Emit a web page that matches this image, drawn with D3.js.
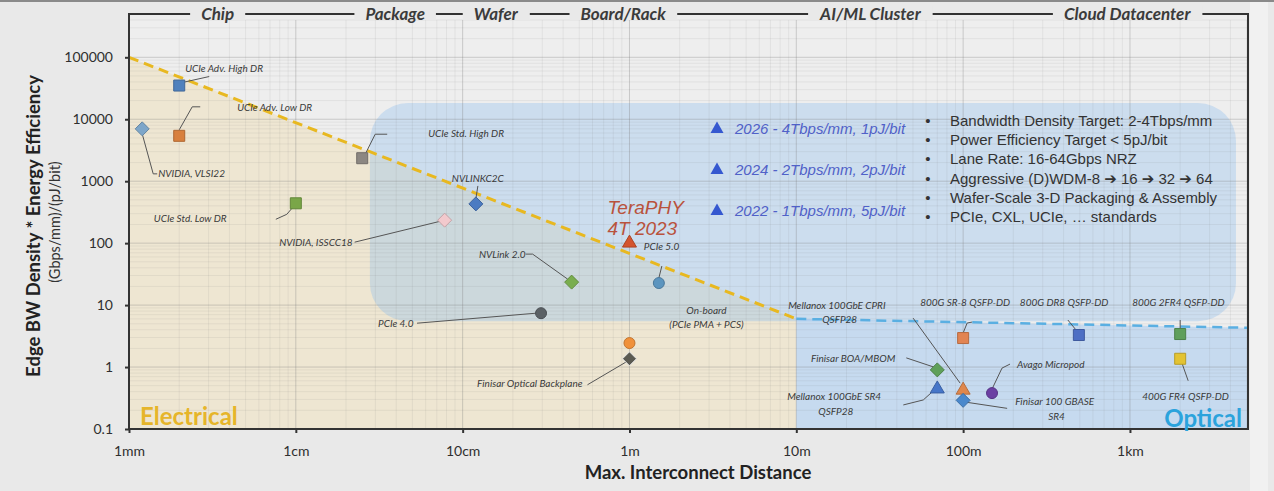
<!DOCTYPE html>
<html><head><meta charset="utf-8">
<script src="https://cdn.jsdelivr.net/npm/d3@7"></script>
<style>body{margin:0;background:#e9e9e9;} svg{display:block;}</style>
</head><body><svg id="c" width="1274" height="491"></svg>
<script>
// ---------------- DATA ----------------
const xTicks = [0.001, 0.01, 0.1, 1, 10, 100, 1000];
const xTickLabels = ["1mm", "1cm", "10cm", "1m", "10m", "100m", "1km"];
const yTicks = [0.1, 1, 10, 100, 1000, 10000, 100000];
const yTickLabels = ["0.1", "1", "10", "100", "1000", "10000", "100000"];

const headerLabels = ["Chip", "Package", "Wafer", "Board/Rack", "AI/ML Cluster", "Cloud Datacenter"];
const headerCenters = [0.0034, 0.0394, 0.158, 0.916, 27.8, 962];

const pointNames = ["UCIe Adv. High DR","UCIe Adv. Low DR","NVIDIA, VLSI22","UCIe Std. High DR","UCIe Std. Low DR",
  "NVIDIA, ISSCC18","NVLINKC2C","TeraPHY 4T 2023","PCIe 5.0","NVLink 2.0","PCIe 4.0","On-board (PCIe PMA + PCS)",
  "Finisar Optical Backplane","Mellanox 100GbE CPRI QSFP28","Finisar BOA/MBOM","Mellanox 100GbE SR4 QSFP28",
  "Finisar 100 GBASE SR4","Avago Micropod","800G SR-8 QSFP-DD","800G DR8 QSFP-DD","800G 2FR4 QSFP-DD","400G FR4 QSFP-DD"];
const pointDistances = [0.002,0.002,0.0012,0.025,0.01,0.078,0.12,1,1.5,0.45,0.295,1,1,100,70,70,100,149,100,494,2000,2000];
const pointValues = [35000,5400,7000,2350,440,235,430,104,22.7,23.5,7.4,2.44,1.36,0.44,0.9,0.46,0.29,0.38,2.94,3.29,3.41,1.36];
const pointShapes = ["square","square","diamond","square","square","diamond","diamond","triangle","circle","diamond","circle","circle",
  "diamond","triangle","diamond","triangle","diamond","circle","square","square","square","square"];

const electricalLineDist = [0.001, 10];
const electricalLineVal = [100000, 6];
const opticalLineDist = [10, 5100];
const opticalLineVal = [6, 4.3];
const targetBoxDist = [0.0278, 4320];
const targetBoxVal = [5.5, 18300];

const legendLabels = ["2026 - 4Tbps/mm, 1pJ/bit", "2024 - 2Tbps/mm, 2pJ/bit", "2022 - 1Tbps/mm, 5pJ/bit"];
const bulletLines = ["Bandwidth Density Target: 2-4Tbps/mm", "Power Efficiency Target < 5pJ/bit", "Lane Rate: 16-64Gbps NRZ",
  "Aggressive (D)WDM-8 \u2794 16 \u2794 32 \u2794 64", "Wafer-Scale 3-D Packaging & Assembly", "PCIe, CXL, UCIe, \u2026 standards"];

// ---------------- STYLE / LAYOUT ----------------
const pointColors = ["#4f81bd","#d8803e","#7da6c9","#8c8782","#7aa648","#f2c9cd","#4b7bc2","#d4542e","#5c95bf","#79ad4e","#5b6165","#f0913b",
  "#5b5a52","#e0874c","#5fa05a","#4676c9","#4a88cc","#6b3fa3","#e28452","#4e6fc4","#5f9f5c","#e3c332"];
const annotations = [
 {lines:[["UCIe Adv. High DR",6,-14]], leader:[[3,-3],[30,-9]]},
 {lines:[["UCIe Adv. Low DR",58,-25]], leader:[[0,-6],[13,-29],[21,-29]]},
 {lines:[["NVIDIA, VLSI22",16,48.5]], leader:[[0,5],[11,45],[15,45]]},
 {lines:[["UCIe Std. High DR",66,-21.5]], leader:[[3,-4],[13,-24],[25,-24]]},
 {lines:[["UCIe Std. Low DR",-142,18.5]], leader:[[-3,4],[-9,11],[-20,16]]},
 {lines:[["NVIDIA, ISSCC18",-92,25.5,"end"]], leader:[[-4,1],[-90,22]]},
 {lines:[["NVLINKC2C",2,-21.5,"middle"]], leader:[[0,-5],[2,-18]]},
 {lines:[["TeraPHY",-22,-28],["4T 2023",-22,-7]], big:true, leader:null},
 {lines:[["PCIe 5.0",-15,-33.5]], leader:[[0,-5],[3,-17]]},
 {lines:[["NVLink 2.0",-46,-24.5,"end"]], leader:[[-4,-3],[-39,-28],[-46,-28]]},
 {lines:[["PCIe 4.0",-163,13.5]], leader:[[-124,10],[-5,0]]},
 {lines:[["On-board",77,-29.5,"middle"],["(PCIe PMA + PCS)",77,-15.5,"middle"]], leader:null},
 {lines:[["Finisar Optical Backplane",-47,28.5,"end"]], leader:[[-42,26],[-3,3]]},
 {lines:[["Mellanox 100GbE CPRI",-175,-80.5],["QSFP28",-141,-66.5]], leader:[[-50,-71],[-3,-6]]},
 {lines:[["Finisar BOA/MBOM",-42,-7.5,"end"]], leader:[[-31,-12],[-4,-3]]},
 {lines:[["Mellanox 100GbE SR4",-150,12.5],["QSFP28",-119,27.5]], leader:[[-34,17],[-14,12],[-4,3]]},
 {lines:[["Finisar 100 GBASE",52,4.5],["SR4",85,19.5]], leader:[[4,2],[44,8]]},
 {lines:[["Avago Micropod",25,-25.5]], leader:[[0,-4],[10,-25],[18,-29]]},
 {lines:[["800G SR-8 QSFP-DD",-43,-32.5]], leader:[[0,-5],[4,-15],[9,-16]]},
 {lines:[["800G DR8 QSFP-DD",-59,-29.5]], leader:[[-2,-4],[-11,-15]]},
 {lines:[["800G 2FR4 QSFP-DD",-48,-28.5]], leader:[[0,-5],[0,-14]]},
 {lines:[["400G FR4 QSFP-DD",-38,41]], leader:[[2,5],[8,22]]}
];

const W = 1274, H = 491;
const x = d3.scaleLog().domain([0.001, 5100]).range([129, 1248]);
const y = d3.scaleLog().domain([0.1, 4e5]).range([429, 20]);
const X0 = x.range()[0], X1 = x.range()[1], Y0 = y.range()[0], Y1 = y.range()[1];
const FONT = "Lato, 'Open Sans', sans-serif";

const svg = d3.select("#c");
svg.append("rect").attr("width", W).attr("height", H).attr("fill", "#e9e9e9");
svg.append("rect").attr("x", 1250).attr("y", 0).attr("width", 18).attr("height", H).attr("fill", "#f1f1f1");
svg.append("rect").attr("x", 0).attr("y", 0).attr("width", W).attr("height", 2).attr("fill", "#8a8a8a");
svg.append("rect").attr("x", X0).attr("y", 14).attr("width", X1 - X0).attr("height", Y0 - 14).attr("fill", "#eeeeee");

// regions
const poly = pts => "M" + pts.map(p => p.join(",")).join("L") + "Z";
svg.append("path").attr("fill", "#eee6d2").attr("d", poly([
  [x(electricalLineDist[0]), y(electricalLineVal[0])], [x(electricalLineDist[1]), y(electricalLineVal[1])],
  [x(electricalLineDist[1]), Y0], [x(electricalLineDist[0]), Y0]]));
svg.append("path").attr("fill", "#c6daef").attr("d", poly([
  [x(opticalLineDist[0]), y(opticalLineVal[0])], [x(opticalLineDist[1]), y(opticalLineVal[1])],
  [x(opticalLineDist[1]), Y0], [x(opticalLineDist[0]), Y0]]));
svg.append("rect")
  .attr("x", x(targetBoxDist[0])).attr("y", y(targetBoxVal[1]))
  .attr("width", x(targetBoxDist[1]) - x(targetBoxDist[0]))
  .attr("height", y(targetBoxVal[0]) - y(targetBoxVal[1]))
  .attr("rx", 38).attr("ry", 38)
  .attr("fill", "rgb(145,192,238)").attr("fill-opacity", 0.36);

// grid
const gx = [], gy = [];
for (let e = -3; e <= 3; e++) for (let k = 1; k <= 9; k++) { const v = k * Math.pow(10, e); if (v >= 0.001 * 0.999 && v <= 5100) gx.push({v, major: k === 1}); }
for (let e = -1; e <= 5; e++) for (let k = 1; k <= 9; k++) { const v = k * Math.pow(10, e); if (v >= 0.0999 && v <= 4e5) gy.push({v, major: k === 1}); }
const grid = svg.append("g");
grid.selectAll(".gx").data(gx).join("line")
  .attr("x1", d => x(d.v)).attr("x2", d => x(d.v)).attr("y1", Y1).attr("y2", Y0)
  .attr("stroke", "#7a7a7a").attr("stroke-opacity", d => d.major ? 0.32 : 0.1).attr("stroke-width", 1);
grid.selectAll(".gy").data(gy).join("line")
  .attr("y1", d => y(d.v)).attr("y2", d => y(d.v)).attr("x1", X0).attr("x2", X1)
  .attr("stroke", "#7a7a7a").attr("stroke-opacity", d => d.major ? 0.32 : 0.1).attr("stroke-width", 1);

// dashed boundary lines
svg.append("line")
  .attr("x1", x(opticalLineDist[0])).attr("y1", y(opticalLineVal[0]))
  .attr("x2", x(opticalLineDist[1])).attr("y2", y(opticalLineVal[1]))
  .attr("stroke", "#5aafe2").attr("stroke-width", 2.5).attr("stroke-dasharray", "10,6");
svg.append("line")
  .attr("x1", x(electricalLineDist[0])).attr("y1", y(electricalLineVal[0]))
  .attr("x2", x(electricalLineDist[1])).attr("y2", y(electricalLineVal[1]))
  .attr("stroke", "#e8b820").attr("stroke-width", 3).attr("stroke-dasharray", "10,6");

// axes
const ax = svg.append("g").attr("transform", `translate(0,${Y0})`)
  .call(d3.axisBottom(x).tickValues(xTicks).tickFormat((d, i) => xTickLabels[i]).tickSize(4).tickPadding(13));
const ay = svg.append("g").attr("transform", `translate(${X0},0)`)
  .call(d3.axisLeft(y).tickValues(yTicks).tickFormat((d, i) => yTickLabels[i]).tickSize(4).tickPadding(12));
[ax, ay].forEach(g => {
  g.select(".domain").remove();
  g.selectAll(".tick line").attr("stroke", "#333").attr("stroke-width", 2);
  g.selectAll(".tick text").attr("font-family", FONT).attr("font-size", 14).attr("fill", "#2f2f2f");
});

// frame + header bracket
svg.append("path").attr("d", `M${X0},${Y0}V14H${X1}V${Y0}`).attr("fill", "none").attr("stroke", "#333").attr("stroke-width", 2);
svg.append("line").attr("x1", X0 - 1).attr("x2", X1 + 1).attr("y1", Y0).attr("y2", Y0).attr("stroke", "#333").attr("stroke-width", 2);
const hdr = svg.append("g");
headerLabels.forEach((t, i) => {
  const g = hdr.append("g");
  const bg = g.append("rect").attr("fill", "#e9e9e9");
  const tx = g.append("text").attr("x", x(headerCenters[i])).attr("y", 19.5).attr("text-anchor", "middle")
    .attr("font-family", FONT).attr("font-weight", "bold").attr("font-style", "italic").attr("font-size", 17)
    .attr("fill", "#3b3b3b").text(t);
  const bb = tx.node().getBBox();
  bg.attr("x", bb.x - 11).attr("width", bb.width + 22).attr("y", 6).attr("height", 14);
});

// points: leaders, markers, labels
const P = pointNames.map((n, i) => ({n, px: x(pointDistances[i]), py: y(pointValues[i]), shape: pointShapes[i], color: pointColors[i], a: annotations[i]}));
const lineGen = d3.line();
svg.append("g").selectAll("path").data(P.filter(d => d.a.leader)).join("path")
  .attr("d", d => lineGen(d.a.leader.map(p => [d.px + p[0], d.py + p[1]])))
  .attr("fill", "none").attr("stroke", "#555").attr("stroke-width", 1);

function markerPath(shape) {
  if (shape === "square") return "M-5.5,-5.5h11v11h-11Z";
  if (shape === "diamond") return "M0,-7L7,0L0,7L-7,0Z";
  if (shape === "triangle") return "M0,-7L7,5L-7,5Z";
  return d3.symbol(d3.symbolCircle, 95)();
}
svg.append("g").selectAll("path").data(P).join("path")
  .attr("transform", d => `translate(${d.px},${d.py})`)
  .attr("d", d => markerPath(d.shape))
  .attr("fill", d => d.color)
  .attr("stroke", d => d.n === "Finisar Optical Backplane" ? "#e8e8e8" : d3.color(d.color).darker(0.6))
  .attr("stroke-width", 1);

const lab = svg.append("g");
P.forEach(d => {
  d.a.lines.forEach(l => {
    const t = lab.append("text").attr("x", d.px + l[1]).attr("y", d.py + l[2])
      .attr("text-anchor", l[3] || "start").text(l[0]);
    if (d.a.big) {
      t.attr("font-family", "'Liberation Sans', Arial, sans-serif").attr("font-style", "italic")
        .attr("font-size", 19).attr("fill", "#b9523c");
    } else {
      t.attr("font-family", FONT).attr("font-style", "italic").attr("font-size", 10).attr("fill", "#3a3a3a");
    }
  });
});

// legend (targets)
const lg = svg.append("g");
legendLabels.forEach((t, i) => {
  const cy = 128 + 41 * i;
  lg.append("path").attr("d", "M0,-6.5L6.5,5L-6.5,5Z").attr("transform", `translate(717,${cy})`).attr("fill", "#3558d0");
  lg.append("text").attr("x", 735).attr("y", cy + 5.5).attr("font-family", "'Liberation Sans', Arial, sans-serif")
    .attr("font-style", "italic").attr("font-size", 15).attr("fill", "#5061c8").text(t);
});
bulletLines.forEach((t, i) => {
  const cy = 121 + 19.2 * i;
  lg.append("text").attr("x", 928).attr("y", cy + 5).attr("font-family", "'Liberation Sans', Arial, sans-serif")
    .attr("font-size", 15).attr("fill", "#333").attr("text-anchor", "middle").text("\u2022");
  lg.append("text").attr("x", 950).attr("y", cy + 5).attr("font-family", "'Liberation Sans', 'DejaVu Sans', Arial, sans-serif")
    .attr("font-size", 15).attr("fill", "#333").text(t);
});

// region labels
svg.append("text").attr("x", 140).attr("y", 425).attr("font-family", FONT).attr("font-weight", "bold")
  .attr("font-size", 24).attr("fill", "#e6b52a").text("Electrical");
svg.append("text").attr("x", 1242).attr("y", 427).attr("text-anchor", "end").attr("font-family", FONT).attr("font-weight", "bold")
  .attr("font-size", 24).attr("fill", "#2ba3dc").text("Optical");

// axis titles
svg.append("text").attr("transform", "translate(40,226) rotate(-90)").attr("text-anchor", "middle")
  .attr("font-family", FONT).attr("font-weight", "bold").attr("font-size", 18.5).attr("fill", "#222")
  .text("Edge BW Density * Energy Efficiency");
svg.append("text").attr("transform", "translate(60,222) rotate(-90)").attr("text-anchor", "middle")
  .attr("font-family", FONT).attr("font-size", 14.5).attr("fill", "#333")
  .text("(Gbps/mm)/(pJ/bit)");
svg.append("text").attr("x", 698).attr("y", 479).attr("text-anchor", "middle")
  .attr("font-family", FONT).attr("font-weight", "bold").attr("font-size", 18.5).attr("fill", "#222")
  .text("Max. Interconnect Distance");
</script></body></html>
